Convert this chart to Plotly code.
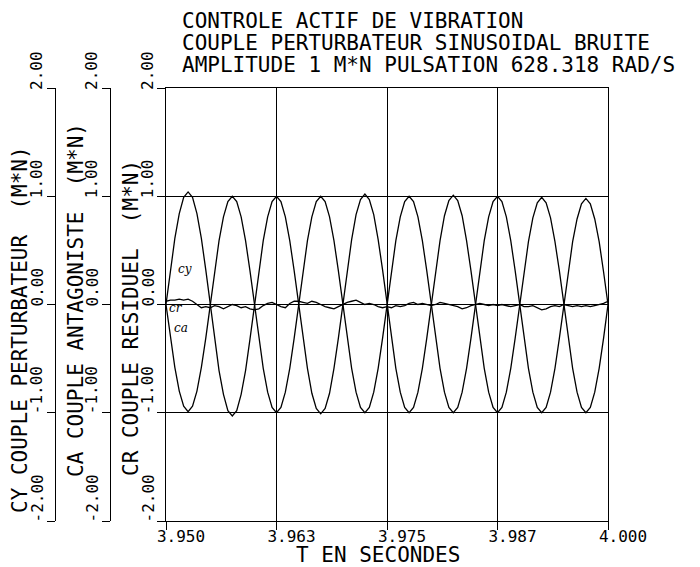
import plotly.graph_objects as go

t_start = 3.950
t_step = 0.0005
n_pts = 101
time_s = [round(t_start + i * t_step, 4) for i in range(n_pts)]

cy_values = [
    0.00, 0.32, 0.61, 0.84, 0.99, 1.04, 0.99, 0.84, 0.61, 0.32, 0.00,
    -0.32, -0.61, -0.83, -0.98, -1.03, -0.98, -0.83, -0.61, -0.32, 0.00,
    0.31, 0.59, 0.81, 0.95, 1.00, 0.95, 0.81, 0.59, 0.31, 0.00,
    -0.31, -0.59, -0.82, -0.96, -1.01, -0.96, -0.82, -0.59, -0.31, 0.00,
    0.32, 0.60, 0.83, 0.97, 1.02, 0.97, 0.83, 0.60, 0.32, 0.00,
    -0.31, -0.59, -0.81, -0.95, -1.00, -0.95, -0.81, -0.59, -0.31, 0.00,
    0.31, 0.59, 0.82, 0.96, 1.01, 0.96, 0.82, 0.59, 0.31, 0.00,
    -0.31, -0.59, -0.81, -0.95, -1.00, -0.95, -0.81, -0.59, -0.31, 0.00,
    0.31, 0.58, 0.80, 0.94, 0.99, 0.94, 0.80, 0.58, 0.31, 0.00,
    -0.31, -0.59, -0.81, -0.95, -1.00, -0.95, -0.81, -0.59, -0.31, 0.00,
]

ca_values = [
    0.00, -0.31, -0.58, -0.80, -0.94, -0.99, -0.94, -0.80, -0.58, -0.31, 0.00,
    0.31, 0.59, 0.81, 0.95, 1.00, 0.95, 0.81, 0.59, 0.31, 0.00,
    -0.31, -0.59, -0.81, -0.95, -1.00, -0.95, -0.81, -0.59, -0.31, 0.00,
    0.31, 0.59, 0.81, 0.95, 1.00, 0.95, 0.81, 0.59, 0.31, 0.00,
    -0.31, -0.59, -0.81, -0.95, -1.00, -0.95, -0.81, -0.59, -0.31, 0.00,
    0.31, 0.59, 0.81, 0.95, 1.00, 0.95, 0.81, 0.59, 0.31, 0.00,
    -0.31, -0.59, -0.81, -0.95, -1.00, -0.95, -0.81, -0.59, -0.31, 0.00,
    0.31, 0.59, 0.81, 0.95, 1.00, 0.95, 0.81, 0.59, 0.31, 0.00,
    -0.31, -0.59, -0.81, -0.95, -1.00, -0.95, -0.81, -0.59, -0.31, 0.00,
    0.30, 0.58, 0.79, 0.93, 0.98, 0.93, 0.79, 0.58, 0.30, 0.00,
]

cr_values = [
    0.03, 0.04, 0.04, 0.05, 0.04, 0.05, 0.03, 0.00, -0.03, -0.02,
    -0.03, -0.01, -0.02, -0.04, -0.02, 0.00, -0.01, -0.03, -0.02, -0.04,
    -0.05, -0.04, -0.01, 0.01, 0.02, 0.00, -0.02, -0.03, 0.01, 0.03,
    0.03, 0.02, 0.01, 0.03, 0.02, 0.00, -0.02, -0.03, -0.04, -0.02,
    0.00, 0.02, 0.03, 0.04, 0.02, 0.00, 0.01, 0.00, -0.02, -0.03,
    -0.02, -0.03, -0.01, -0.02, -0.01, 0.01, 0.02, 0.00, 0.01, 0.00,
    -0.01, 0.00, 0.02, 0.01, 0.00, -0.01, -0.02, -0.04, -0.03, -0.01,
    0.00, 0.01, 0.00, -0.01, 0.00, -0.01, 0.00, -0.01, -0.02, -0.01,
    0.00, -0.02, -0.02, -0.01, -0.03, -0.05, -0.04, -0.02, -0.01, -0.02,
    0.00, -0.01, -0.02, -0.01, -0.02, -0.01, -0.02, -0.01, 0.00, 0.01,
    0.03,
]

x_tick_vals = [3.950, 3.9625, 3.975, 3.9875, 4.000]
x_tick_text = ["3.950", "3.963", "3.975", "3.987", "4.000"]
y_tick_vals = [-2, -1, 0, 1, 2]
y_tick_text = ["-2.00", "-1.00", "0.00", "1.00", "2.00"]

title_lines = [
    "CONTROLE ACTIF DE VIBRATION",
    "COUPLE PERTURBATEUR SINUSOIDAL BRUITE",
    "AMPLITUDE 1 M*N PULSATION 628.318 RAD/S",
]
axis_titles = {
    "cy": "CY COUPLE PERTURBATEUR  (M*N)",
    "ca": "CA COUPLE ANTAGONISTE  (M*N)",
    "cr": "CR COUPLE RESIDUEL  (M*N)",
}
x_title = "T EN SECONDES"

# ---- layout geometry (page body has an 8 px margin) ----
OFF = 8
W, H = 700 - OFF, 567 - OFF
plot_left, plot_right, plot_top, plot_bottom = 166, 608, 88, 521
ML = 0
MR = 700 - plot_right
MT = plot_top - OFF
MB = 567 - plot_bottom
PW = W - ML - MR
PH = H - MT - MB


def px(xp):
    return (xp - OFF - ML) / PW


def py(yp):
    return (plot_bottom - yp) / PH


FONT = "DejaVu Sans Mono"
LINE = dict(color="black", width=1.3)

fig = go.Figure()
fig.add_trace(go.Scatter(x=time_s, y=cy_values, mode="lines", line=LINE, yaxis="y3", name="CY"))
fig.add_trace(go.Scatter(x=time_s, y=ca_values, mode="lines", line=LINE, yaxis="y2", name="CA"))
fig.add_trace(go.Scatter(x=time_s, y=cr_values, mode="lines", line=LINE, yaxis="y", name="CR"))

tick_font = dict(family=FONT, size=16, color="black")

common_y = dict(
    range=[-2, 2], tickvals=y_tick_vals,
    ticks="outside", ticklen=8, tickcolor="black", tickwidth=1,
    showline=True, linecolor="black", linewidth=1.2, zeroline=False,
    showticklabels=False, automargin=False, fixedrange=True,
)

fig.update_layout(
    width=W, height=H,
    margin=dict(l=ML, r=MR, t=MT, b=MB, autoexpand=False),
    paper_bgcolor="white", plot_bgcolor="white",
    showlegend=False,
    xaxis=dict(
        domain=[px(plot_left), 1], range=[3.950, 4.000],
        tickvals=x_tick_vals, ticktext=x_tick_text,
        ticks="outside", ticklen=8, tickcolor="black",
        showline=True, mirror=True, linecolor="black", linewidth=1.2,
        showgrid=True, gridcolor="black", gridwidth=1, zeroline=False,
        tickfont=tick_font, ticklabelshift=15, ticklabelstandoff=-7,
        automargin=False, fixedrange=True,
    ),
    yaxis=dict(
        **common_y, anchor="x", mirror=True,
        showgrid=True, gridcolor="black", gridwidth=1,
    ),
    yaxis2=dict(
        **common_y, anchor="free", overlaying="y", side="left",
        position=px(110), showgrid=False,
    ),
    yaxis3=dict(
        **common_y, anchor="free", overlaying="y", side="left",
        position=px(55), showgrid=False,
    ),
)

title_font = dict(family=FONT, size=21, color="black")
annotations = []
for line, yc in zip(title_lines, [21, 43, 65]):
    annotations.append(dict(text=line, x=px(181), y=py(yc), xref="paper", yref="paper",
                            xanchor="left", yanchor="middle", showarrow=False, font=title_font,
                            borderpad=0))
for key, xc, yc in [("cy", 20, 330), ("ca", 76, 300), ("cr", 131, 318)]:
    annotations.append(dict(text=axis_titles[key], x=px(xc), y=py(yc), xref="paper", yref="paper",
                            xanchor="center", yanchor="middle", textangle=-90,
                            showarrow=False, font=title_font))
# rotated y tick labels beside each of the three vertical axes
for axis_x in [55, 110, plot_left]:
    for val, txt in zip(y_tick_vals, y_tick_text):
        annotations.append(dict(text=txt, x=px(axis_x - 8), y=val, xref="paper", yref="y",
                                xanchor="right", yanchor="bottom", textangle=-90,
                                showarrow=False, font=tick_font,
                                borderpad=0, yshift=-3))
annotations.append(dict(text=x_title, x=px(378), y=py(555), xref="paper", yref="paper",
                        xanchor="center", yanchor="middle", showarrow=False, font=title_font,
                        borderpad=0))
hand_font = dict(family="DejaVu Serif", size=12, color="black", style="italic")
for txt, xc, yc in [("cy", 185, 269), ("cr", 176, 308), ("ca", 181, 328)]:
    annotations.append(dict(text=txt, x=px(xc), y=py(yc), xref="paper", yref="paper",
                            xanchor="center", yanchor="middle", showarrow=False, font=hand_font))
fig.update_layout(annotations=annotations)

fig.write_html("out.html")
